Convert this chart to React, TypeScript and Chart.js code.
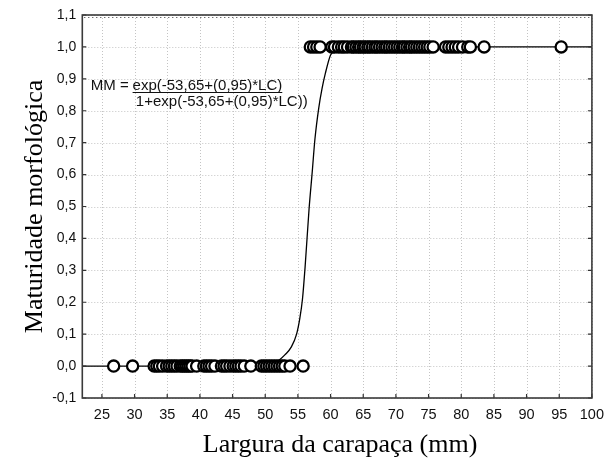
import React, { useEffect, useRef } from "react";
import { Chart, registerables } from "chart.js";

Chart.register(...registerables);

// ---- data ----
const xTicks = [25, 30, 35, 40, 45, 50, 55, 60, 65, 70, 75, 80, 85, 90, 95, 100];
const yTicks = [-0.1, 0, 0.1, 0.2, 0.3, 0.4, 0.5, 0.6, 0.7, 0.8, 0.9, 1.0, 1.1];

// Largura da carapaça (LC) of immature crabs (MM = 0)
const immatureLC = [
  26.8, 29.7, 33.0, 33.4, 33.8, 34.3, 34.9, 35.3, 35.7, 36.1, 36.5, 37.0, 37.3,
  37.6, 37.9, 38.2, 38.5, 38.8, 39.5, 40.6, 41.0, 41.4, 41.8, 42.3, 43.3, 43.7,
  44.1, 44.6, 45.1, 45.5, 45.9, 46.3, 46.8, 47.8, 49.4, 49.8, 50.2, 50.6, 51.0,
  51.4, 51.8, 52.2, 52.6, 53.0, 53.8, 55.8,
];
// LC of mature crabs (MM = 1)
const matureLC = [
  56.9, 57.4, 57.9, 58.4, 60.2, 60.6, 61.2, 61.7, 62.1, 62.6, 63.2, 63.5, 63.9,
  64.3, 64.6, 65.0, 65.3, 65.7, 66.0, 66.4, 66.8, 67.1, 67.5, 67.9, 68.3, 68.6,
  69.0, 69.4, 69.8, 70.2, 70.6, 71.0, 71.3, 71.7, 72.1, 72.4, 72.8, 73.2, 73.6,
  74.0, 74.4, 74.8, 75.2, 75.7, 77.6, 78.1, 78.6, 79.1, 79.6, 80.2, 81.0, 81.4,
  83.5, 95.3,
];
// fitted logistic curve
const curveLC = [22, 49, 51, 52.2, 53, 54, 54.8, 55.3, 55.7, 56.1, 56.7, 57.2, 57.6, 58.2, 58.7, 59.2, 60, 61, 62, 100];
const curveMM = [0, 0, 0.005, 0.02, 0.035, 0.06, 0.1, 0.15, 0.21, 0.31, 0.49, 0.61, 0.71, 0.81, 0.87, 0.917, 0.975, 0.995, 1, 1];

const xTitle = "Largura da carapaça (mm)";
const yTitle = "Maturidade morfológica";
const eqLeft = "MM =";
const eqNum = "exp(-53,65+(0,95)*LC)";
const eqDen = "1+exp(-53,65+(0,95)*LC))";

const fmt = (v: number) => v.toFixed(1).replace(".", ",");

const decor = {
  id: "decor",
  beforeDatasetsDraw(chart: any) {
    const { ctx, chartArea: a, scales } = chart;
    const x = scales.x, y = scales.y;
    ctx.save();
    ctx.strokeStyle = "#c4c4c4";
    ctx.lineWidth = 1;
    ctx.setLineDash([1, 2]);
    ctx.beginPath();
    xTicks.forEach((v) => {
      const px = Math.round(x.getPixelForValue(v)) + 0.5;
      ctx.moveTo(px, a.top);
      ctx.lineTo(px, a.bottom);
    });
    yTicks.forEach((v) => {
      const py = Math.round(y.getPixelForValue(v)) + 0.5;
      ctx.moveTo(a.left, py);
      ctx.lineTo(a.right, py);
    });
    ctx.stroke();
    ctx.restore();
  },
  afterDatasetsDraw(chart: any) {
    const { ctx, chartArea: a, scales } = chart;
    const x = scales.x, y = scales.y;
    ctx.save();
    // tick marks (inward)
    ctx.strokeStyle = "#333";
    ctx.lineWidth = 1.2;
    ctx.beginPath();
    xTicks.forEach((v) => {
      const px = x.getPixelForValue(v);
      ctx.moveTo(px, a.bottom);
      ctx.lineTo(px, a.bottom - 4);
    });
    yTicks.forEach((v) => {
      const py = y.getPixelForValue(v);
      ctx.moveTo(a.left, py);
      ctx.lineTo(a.left + 4, py);
      ctx.moveTo(a.right, py);
      ctx.lineTo(a.right - 4, py);
    });
    ctx.stroke();
    // small marks along the top edge
    ctx.setLineDash([1, 3]);
    ctx.lineWidth = 1;
    ctx.beginPath();
    ctx.moveTo(a.left + 2, a.top + 2.5);
    ctx.lineTo(a.right - 2, a.top + 2.5);
    ctx.stroke();
    ctx.setLineDash([]);
    // frame
    ctx.strokeStyle = "#3a3a3a";
    ctx.lineWidth = 1.6;
    ctx.strokeRect(a.left, a.top, a.right - a.left, a.bottom - a.top);

    // equation
    ctx.fillStyle = "#111";
    ctx.font = "15px 'Liberation Sans', Arial, sans-serif";
    ctx.textBaseline = "alphabetic";
    ctx.textAlign = "left";
    const x0 = x.getPixelForValue(23.3);
    const yl1 = y.getPixelForValue(0.865);
    const yl2 = y.getPixelForValue(0.815);
    ctx.fillText(eqLeft, x0, yl1);
    const xn = x.getPixelForValue(29.7);
    ctx.fillText(eqNum, xn, yl1);
    const w = ctx.measureText(eqNum).width;
    ctx.lineWidth = 1;
    ctx.strokeStyle = "#111";
    ctx.beginPath();
    ctx.moveTo(xn, yl1 + 2.5);
    ctx.lineTo(xn + w, yl1 + 2.5);
    ctx.stroke();
    ctx.fillText(eqDen, x.getPixelForValue(30.2), yl2);

    // axis titles
    ctx.fillStyle = "#000";
    ctx.font = "26px 'Liberation Serif', 'Times New Roman', serif";
    ctx.textAlign = "center";
    ctx.textBaseline = "alphabetic";
    ctx.fillText(xTitle, (a.left + a.right) / 2 + 3, 452);
    ctx.save();
    ctx.translate(42, (a.top + a.bottom) / 2);
    ctx.rotate(-Math.PI / 2);
    ctx.fillText(yTitle, 0, 0);
    ctx.restore();
    ctx.restore();
  },
};

export default function App() {
  const ref = useRef<HTMLCanvasElement>(null);
  useEffect(() => {
    if (!ref.current) return;
    const chart = new Chart(ref.current, {
      type: "scatter",
      data: {
        datasets: [
          {
            type: "scatter",
            label: "MM",
            data: [
              ...immatureLC.map((v) => ({ x: v, y: 0 })),
              ...matureLC.map((v) => ({ x: v, y: 1 })),
            ],
            pointRadius: 5.6,
            pointBorderWidth: 2.3,
            borderColor: "#000",
            backgroundColor: "#fff",
            order: 1,
          },
          {
            type: "line",
            label: "curve",
            data: curveLC.map((v, i) => ({ x: v, y: curveMM[i] })),
            borderColor: "#000",
            borderWidth: 1.3,
            pointRadius: 0,
            fill: false,
            cubicInterpolationMode: "monotone",
            order: 2,
          } as any,
        ],
      },
      options: {
        animation: false,
        responsive: false,
        devicePixelRatio: 1,
        layout: { padding: { left: 0, top: 15, right: 17.6, bottom: 0 } },
        plugins: { legend: { display: false }, tooltip: { enabled: false } },
        scales: {
          x: {
            type: "linear",
            min: 22,
            max: 100,
            afterBuildTicks: (s: any) => {
              s.ticks = xTicks.map((v) => ({ value: v }));
            },
            afterFit: (s: any) => {
              s.height = 64;
            },
            grid: { display: false, drawTicks: false },
            border: { display: false },
            ticks: {
              padding: 8,
              color: "#111",
              font: { family: "'Liberation Sans', Arial, sans-serif", size: 14.5 },
              maxRotation: 0,
              autoSkip: false,
            },
          },
          y: {
            type: "linear",
            min: -0.1,
            max: 1.1,
            afterBuildTicks: (s: any) => {
              s.ticks = yTicks.map((v) => ({ value: v }));
            },
            afterFit: (s: any) => {
              s.width = 82.3;
            },
            grid: { display: false, drawTicks: false },
            border: { display: false },
            ticks: {
              padding: 6,
              color: "#111",
              font: { family: "'Liberation Sans', Arial, sans-serif", size: 14 },
              callback: (v: any) => fmt(Number(v)),
              autoSkip: false,
            },
          },
        },
      },
      plugins: [decor],
    });
    return () => chart.destroy();
  }, []);
  return (
    <div style={{ position: "absolute", left: 0, top: 0, width: 612, height: 462 }}>
      <canvas ref={ref} width={612} height={462} style={{ display: "block" }} />
    </div>
  );
}
